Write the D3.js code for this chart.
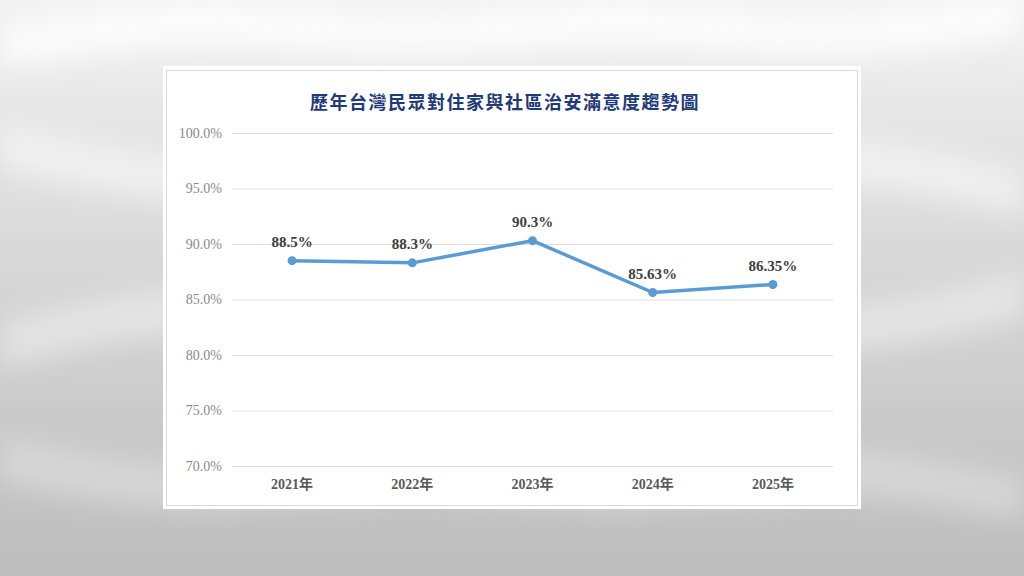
<html>
<head>
<meta charset="utf-8">
<title>歷年台灣民眾對住家與社區治安滿意度趨勢圖</title>
<style>
  body { margin: 0; background: #d9d9d9; }
  svg { display: block; }
</style>
<script src="https://d3js.org/d3.v7.min.js"></script>
</head>
<body>
<svg width="1024" height="576"></svg>
<script>
var years = ["2021年", "2022年", "2023年", "2024年", "2025年"];
var values = [88.5, 88.3, 90.3, 85.63, 86.35];
var valueLabels = ["88.5%", "88.3%", "90.3%", "85.63%", "86.35%"];
var yTicks = [70, 75, 80, 85, 90, 95, 100];
var chartTitle = "歷年台灣民眾對住家與社區治安滿意度趨勢圖";

var svg = d3.select("svg"),
    W = +svg.attr("width"),
    H = +svg.attr("height");

// background: soft gray waves
var defs = svg.append("defs");
var bg = defs.append("linearGradient").attr("id", "bg")
    .attr("x1", 0).attr("y1", 0).attr("x2", 0).attr("y2", 1);
bg.append("stop").attr("offset", "0%").attr("stop-color", "#f2f2f2");
bg.append("stop").attr("offset", "45%").attr("stop-color", "#d8d8d8");
bg.append("stop").attr("offset", "100%").attr("stop-color", "#bcbcbc");
defs.append("filter").attr("id", "blur")
    .attr("x", "-20%").attr("y", "-50%").attr("width", "140%").attr("height", "200%")
  .append("feGaussianBlur").attr("stdDeviation", 14);

svg.append("rect").attr("width", W).attr("height", H).attr("fill", "url(#bg)");

var waves = [
  {y0: 30, amp: 16, op: 0.8},
  {y0: 170, amp: 24, op: 0.5},
  {y0: 320, amp: 26, op: 0.4},
  {y0: 480, amp: 20, op: 0.3}
];
var waveArea = d3.area().curve(d3.curveBasis);
waves.forEach(function(w, i) {
  var pts = d3.range(0, 6).map(function(k) {
    return [k * W / 5, w.y0 + (k % 2 ? -w.amp : w.amp) * (i % 2 ? -1 : 1)];
  });
  svg.append("path")
    .attr("d", waveArea.y0(function(d) { return d[1] - 22; }).y1(function(d) { return d[1] + 22; })(pts))
    .attr("fill", "#ffffff")
    .attr("opacity", w.op)
    .attr("filter", "url(#blur)");
});

// white chart panel
svg.append("rect")
    .attr("x", 163).attr("y", 66).attr("width", 698).attr("height", 443)
    .attr("fill", "#ffffff");
svg.append("rect")
    .attr("x", 166.5).attr("y", 70.5).attr("width", 691).attr("height", 435)
    .attr("fill", "none").attr("stroke", "#d9d9d9").attr("stroke-width", 1);

var margin = {top: 133, left: 232, right: 833, bottom: 466};

var x = d3.scaleBand().domain(years).range([margin.left, margin.right]);
var y = d3.scaleLinear().domain([70, 100]).range([margin.bottom, margin.top]);

// title
svg.append("text")
    .attr("x", 505).attr("y", 101)
    .attr("text-anchor", "middle")
    .attr("dominant-baseline", "central")
    .style("font-family", "'Noto Sans CJK TC', sans-serif")
    .style("font-weight", "700")
    .style("font-size", "18px")
    .style("letter-spacing", "1.5px")
    .attr("fill", "#1f3a78")
    .text(chartTitle);

// gridlines + y axis
var yAxis = svg.append("g")
    .attr("transform", "translate(" + margin.left + ",0)")
    .call(d3.axisLeft(y).tickValues(yTicks)
      .tickSize(-(margin.right - margin.left))
      .tickPadding(10)
      .tickFormat(function(d) { return d.toFixed(1) + "%"; }));
yAxis.select(".domain").remove();
yAxis.selectAll(".tick line").attr("stroke", "#e0e0e0").attr("stroke-width", 1);
yAxis.selectAll(".tick text")
    .attr("fill", "#8a8a8a")
    .style("font-family", "'Liberation Serif', serif")
    .style("font-size", "14px");

// x axis
var xAxis = svg.append("g")
    .attr("transform", "translate(0," + margin.bottom + ")")
    .call(d3.axisBottom(x).tickSize(0).tickPadding(13));
xAxis.select(".domain").remove();
xAxis.selectAll(".tick text")
    .attr("fill", "#595959")
    .style("font-family", "'Liberation Serif', 'Noto Sans CJK TC', serif")
    .style("font-weight", "700")
    .style("font-size", "14px");

var data = years.map(function(yr, i) {
  return {year: yr, value: values[i], label: valueLabels[i]};
});

var cx = function(d) { return x(d.year) + x.bandwidth() / 2; };

svg.append("path")
    .datum(data)
    .attr("fill", "none")
    .attr("stroke", "#5b9bd5")
    .attr("stroke-width", 3.5)
    .attr("stroke-linejoin", "round")
    .attr("d", d3.line().x(cx).y(function(d) { return y(d.value); }));

svg.selectAll(".dot")
    .data(data)
    .enter().append("circle")
    .attr("class", "dot")
    .attr("cx", cx)
    .attr("cy", function(d) { return y(d.value); })
    .attr("r", 4.5)
    .attr("fill", "#5b9bd5");

svg.selectAll(".lbl")
    .data(data)
    .enter().append("text")
    .attr("class", "lbl")
    .attr("x", cx)
    .attr("y", function(d) { return y(d.value) - 14; })
    .attr("text-anchor", "middle")
    .attr("fill", "#404040")
    .style("font-family", "'Liberation Serif', serif")
    .style("font-weight", "700")
    .style("font-size", "15px")
    .text(function(d) { return d.label; });
</script>
</body>
</html>
